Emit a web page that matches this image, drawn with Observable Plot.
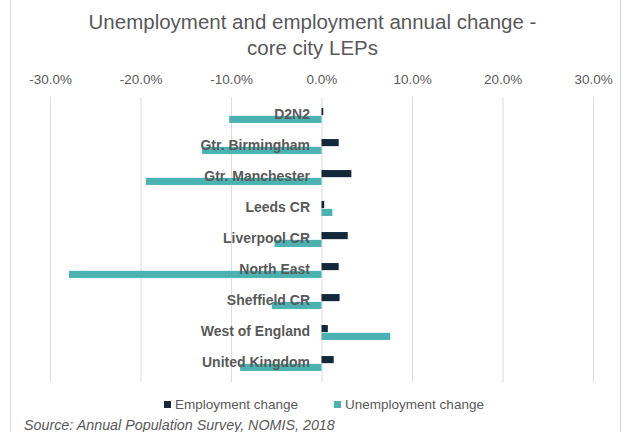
<!DOCTYPE html>
<html>
<head>
<meta charset="utf-8">
<script src="https://cdn.jsdelivr.net/npm/d3@7"></script>
<script src="https://cdn.jsdelivr.net/npm/@observablehq/plot@0.6"></script>
<style>
  html, body { margin: 0; padding: 0; background: #fff; }
  #wrap { position: relative; width: 625px; height: 432px; overflow: hidden; font-family: "Liberation Sans", Arial, sans-serif; }
  #frame { position: absolute; left: 10px; top: 0; width: 611px; height: 432px; border-left: 1px solid #d9d9d9; border-right: 1px solid #d9d9d9; box-sizing: border-box; }
  #title { position: absolute; left: 0; width: 625px; top: 9px; text-align: center; font-size: 20.5px; line-height: 26px; color: #595959; }
  #chart { position: absolute; left: 0; top: 62px; }
  #legend { position: absolute; left: 164px; top: 397px; font-size: 13.5px; color: #595959; white-space: nowrap; }
  #legend span.sw { display: inline-block; width: 7px; height: 7px; margin-right: 4px; vertical-align: 1px; }
  #legend span.item { margin-right: 36px; }
  #source { position: absolute; left: 24px; top: 417px; font-size: 14.3px; font-style: italic; color: #595959; }
</style>
</head>
<body>
<div id="wrap">
  <div id="frame"></div>
  <div id="title">Unemployment and employment annual change -<br>core city LEPs</div>
  <div id="chart"></div>
  <div id="legend"></div>
  <div id="source">Source: Annual Population Survey, NOMIS, 2018</div>
</div>
<script>
const categories = ["D2N2", "Gtr. Birmingham", "Gtr. Manchester", "Leeds CR", "Liverpool CR", "North East", "Sheffield CR", "West of England", "United Kingdom"];
const employmentChange = [0.2, 1.9, 3.3, 0.3, 2.9, 1.9, 2.0, 0.7, 1.35];
const unemploymentChange = [-10.2, -13.2, -19.4, 1.2, -5.2, -27.9, -5.5, 7.6, -9.0];
const seriesNames = ["Employment change", "Unemployment change"];
const seriesColors = ["#13293a", "#4bb2b2"];
const xTicks = [-30, -20, -10, 0, 10, 20, 30];

const emp = categories.map((c, i) => ({category: c, value: employmentChange[i]}));
const unemp = categories.map((c, i) => ({category: c, value: unemploymentChange[i]}));

const marginTop = 35, bandH = 31.7, marginBottom = 4;
const height = marginTop + bandH * categories.length + marginBottom;
const barH = 7.8;
const half = bandH / 2;

const chart = Plot.plot({
  width: 625,
  height,
  marginLeft: 50,
  marginRight: 32,
  marginTop,
  marginBottom,
  style: {fontFamily: "Liberation Sans, Arial, sans-serif", background: "transparent"},
  x: {domain: [-30, 30], ticks: xTicks, label: null},
  y: {domain: categories, padding: 0, axis: null},
  marks: [
    Plot.gridX(xTicks, {stroke: "#dcdcdc", strokeOpacity: 1}),
    Plot.axisX(xTicks, {anchor: "top", label: null, tickSize: 0, tickPadding: 13, fontSize: 13.5, fill: "#595959", tickFormat: d => d.toFixed(1) + "%"}),
    Plot.barX(emp, {x: "value", y: "category", fill: seriesColors[0], insetTop: half - barH, insetBottom: half}),
    Plot.barX(unemp, {x: "value", y: "category", fill: seriesColors[1], insetTop: half, insetBottom: half - barH}),
    Plot.text(categories, {x: 0, y: d => d, text: d => d, textAnchor: "end", dx: -12, dy: -1, fontSize: 14, fontWeight: "bold", fill: "#595959"})
  ]
});
document.getElementById("chart").appendChild(chart);

const legend = document.getElementById("legend");
seriesNames.forEach((n, i) => {
  const item = document.createElement("span");
  item.className = "item";
  const sw = document.createElement("span");
  sw.className = "sw";
  sw.style.background = seriesColors[i];
  item.appendChild(sw);
  item.appendChild(document.createTextNode(n));
  legend.appendChild(item);
});
</script>
</body>
</html>
